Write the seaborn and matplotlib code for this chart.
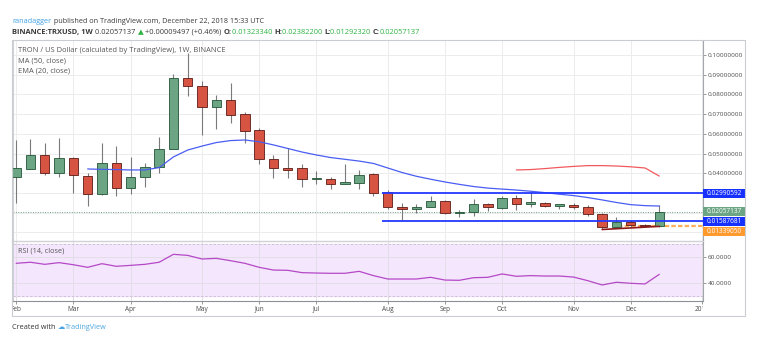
import numpy as np
import pandas as pd
import matplotlib
matplotlib.use('Agg')
import matplotlib.pyplot as plt
import matplotlib.transforms as mtransforms
from matplotlib.patches import Rectangle
import seaborn as sns

sns.set_style('white')
plt.rcParams['font.family'] = ['Open Sans', 'DejaVu Sans']

# TRX/USD weekly candles (Binance), week of 2018-02-05 .. 2018-12-17
weeks = pd.date_range('2018-02-05', periods=46, freq='W-MON')
opens = [0.0381, 0.0422, 0.0493, 0.0402, 0.0478, 0.0386, 0.0295, 0.0452, 0.0325, 0.0381,
         0.0432, 0.0523, 0.0883, 0.0843, 0.0736, 0.0772, 0.0701, 0.0620, 0.0473, 0.0427,
         0.0427, 0.0371, 0.0373, 0.0346, 0.0351, 0.0396, 0.0305, 0.0229, 0.0219, 0.0229,
         0.0260, 0.0199, 0.0204, 0.0245, 0.0224, 0.0275, 0.0245, 0.0250, 0.0234, 0.0240,
         0.0229, 0.0194, 0.0128, 0.0153, 0.0140, 0.01323340]
highs = [0.0569, 0.0574, 0.0554, 0.0579, 0.0483, 0.0402, 0.0554, 0.0539, 0.0483, 0.0452,
         0.0584, 0.0904, 0.1010, 0.0868, 0.0797, 0.0858, 0.0711, 0.0630, 0.0493, 0.0528,
         0.0447, 0.0412, 0.0381, 0.0447, 0.0417, 0.0402, 0.0315, 0.0250, 0.0245, 0.0285,
         0.0265, 0.0214, 0.0270, 0.0250, 0.0285, 0.0290, 0.0310, 0.0255, 0.0245, 0.0250,
         0.0240, 0.0199, 0.0179, 0.0163, 0.0141, 0.02382200]
lows = [0.0250, 0.0420, 0.0391, 0.0381, 0.0300, 0.0234, 0.0290, 0.0285, 0.0295, 0.0331,
        0.0402, 0.0521, 0.0792, 0.0594, 0.0625, 0.0655, 0.0554, 0.0447, 0.0376, 0.0376,
        0.0331, 0.0346, 0.0320, 0.0345, 0.0320, 0.0285, 0.0219, 0.0163, 0.0199, 0.0228,
        0.0194, 0.0179, 0.0184, 0.0209, 0.0219, 0.0214, 0.0229, 0.0229, 0.0219, 0.0219,
        0.0184, 0.0118, 0.0123, 0.0128, 0.0130, 0.01292320]
closes = [0.0427, 0.0493, 0.0402, 0.0478, 0.0391, 0.0295, 0.0452, 0.0325, 0.0381, 0.0432,
          0.0523, 0.0883, 0.0843, 0.0736, 0.0772, 0.0696, 0.0615, 0.0473, 0.0427, 0.0417,
          0.0371, 0.0373, 0.0346, 0.0356, 0.0391, 0.0300, 0.0229, 0.0219, 0.0229, 0.0260,
          0.0199, 0.0204, 0.0245, 0.0229, 0.0275, 0.0245, 0.0255, 0.0234, 0.0245, 0.0229,
          0.0194, 0.0128, 0.0153, 0.0138, 0.0132, 0.02057137]

# EMA(20) drawn from week 5, MA(50) from week 35
ema20 = [0.0422, 0.0420, 0.0419, 0.0417, 0.0417, 0.0429, 0.0483, 0.0518, 0.0538, 0.0556,
         0.0566, 0.0569, 0.0560, 0.0544, 0.0526, 0.0508, 0.0493, 0.0480, 0.0471, 0.0462,
         0.0450, 0.0427, 0.0404, 0.0385, 0.0370, 0.0356, 0.0344, 0.0333, 0.0325, 0.0320,
         0.0315, 0.0309, 0.0302, 0.0294, 0.0287, 0.0277, 0.0265, 0.0252, 0.0241, 0.0236, 0.0234]
ma50 = [0.0417, 0.0419, 0.0424, 0.0430, 0.0435, 0.0439, 0.0439, 0.0437, 0.0433, 0.0427, 0.0386]

rsi14 = [55.4, 56.2, 54.6, 55.9, 54.3, 52.3, 55.1, 53.1, 53.8, 54.6,
         56.2, 62.3, 61.5, 58.7, 59.2, 57.4, 55.4, 52.3, 50.2, 50.0,
         48.2, 47.9, 47.7, 47.7, 49.2, 45.9, 43.3, 43.3, 43.3, 44.6,
         42.5, 42.3, 44.3, 44.6, 47.2, 45.4, 45.9, 45.6, 45.6, 44.8,
         42.0, 38.7, 40.8, 40.0, 39.5, 46.9]

# drawn levels
resistance = 0.02990592
support = 0.01587681
low_level = 0.01339050
trend_vals = [0.0115, 0.0131]   # from week 41 to week 45
change_txt = '+0.00009497 (+0.46%)'

W, H = 762, 351
fig = plt.figure(figsize=(W / 100, H / 100), dpi=100)


def fx(px):
    return px / W


def fy(py):
    return 1 - py / H


L, R = 12.5, 703
ax = fig.add_axes([fx(L), fy(240.7), fx(R) - fx(L), fy(40) - fy(240.7)])
ax_rsi = fig.add_axes([fx(L), fy(300.7), fx(R) - fx(L), fy(240.7) - fy(300.7)])
ax_d = fig.add_axes([fx(L), fy(316), fx(R) - fx(L), fy(300.7) - fy(316)])

x0 = weeks[0] - pd.Timedelta(days=1.81)
x1 = weeks[0] + pd.Timedelta(days=336.4)
for a in (ax, ax_rsi, ax_d):
    a.set_xlim(x0, x1)
    a.set_facecolor('none')

# month ticks: first weekly bar of each month
all_weeks = pd.date_range('2018-02-05', '2019-01-14', freq='W-MON')
month_ticks = pd.Series(all_weeks).groupby(all_weeks.to_period('M')).first().tolist()
month_labels = [d.strftime('%b') if d.month != 1 else str(d.year) for d in month_ticks]

# ---- candles
GREEN, GREEN_E = '#6ba583', '#225437'
RED, RED_E = '#d75442', '#5b1a13'
o = np.array(opens); c = np.array(closes)
up = c >= o
ax.vlines(weeks, lows, highs, color='#7a7a7c', lw=0.8, zorder=3)
body_bot = np.minimum(o, c)
body_h = np.maximum(np.abs(c - o), 0.0005)
ax.bar(weeks, body_h, bottom=body_bot, width=4.6,
       color=[GREEN if u else RED for u in up],
       edgecolor=[GREEN_E if u else RED_E for u in up], linewidth=0.6, zorder=4)

sns.lineplot(x=weeks[5:], y=ema20, ax=ax, color='#4a5df2', lw=0.9, zorder=5)
sns.lineplot(x=weeks[35:], y=ma50, ax=ax, color='#f05a5e', lw=0.9, zorder=5)

# levels
seg_start = weeks[26] - pd.Timedelta(days=3)
ax.hlines([resistance, support], seg_start, x1, color='#2438ff', lw=1.3, zorder=6)
ax.axhline(closes[-1], color='#6f9f80', lw=0.7, ls=(0, (1, 1.5)), zorder=2)
ax.hlines(low_level, weeks[43] - pd.Timedelta(days=6), x1, color='#ffae5c', lw=1.6,
          ls=(0, (2, 1)), zorder=2)
ax.plot([weeks[41], weeks[45]], trend_vals, color='#8e1b1b', lw=1.2, zorder=6)

ax.set_ylim(0.00582, 0.10761)
ax.set_yticks(np.arange(0.01, 0.1005, 0.01))
ax.yaxis.set_major_formatter(plt.FuncFormatter(lambda v, _: f'{v:.8f}' if v > 0.035 else ''))
ax.yaxis.tick_right()
ax.set_xticks(month_ticks)
ax.tick_params(axis='y', length=2.2, width=0.6, color='#8a8a8a', labelsize=4.6,
               labelcolor='#4a4a4a', pad=1.3)
ax.tick_params(axis='x', bottom=False, labelbottom=False)
ax.grid(True, color='#ececee', lw=0.7, zorder=0)
ax.set_xlabel(''); ax.set_ylabel('')

# price labels on the axis
labels = [(resistance, '#1630ff'), (closes[-1], '#6ba583'), (support, '#1630ff'), (low_level, '#ff9a2e')]
sep = 10 / 1971.7
half = 4.6 / 1971.7
blend = mtransforms.blended_transform_factory(ax.transAxes, ax.transData)
prev = None
for val, col in sorted(labels, key=lambda t: -t[0]):
    yy = val if prev is None or prev - val >= sep else prev - sep
    prev = yy
    ax.add_patch(Rectangle((1.0, yy - half), 42 / (R - L), 2 * half, transform=blend,
                           fc=col, ec='none', clip_on=False, zorder=10))
    ax.text(1.0 + 21 / (R - L), yy, f'{val:.8f}', transform=blend, ha='center', va='center',
            color='white', fontsize=4.7, clip_on=False, zorder=11)

# ---- RSI
ax_rsi.axhspan(30, 70, color='#f4e6fd', zorder=0)
for lv in (30, 70):
    ax_rsi.axhline(lv, color='#c9bdd2', lw=0.6, ls=(0, (3, 2)), zorder=1)
sns.lineplot(x=weeks, y=rsi14, ax=ax_rsi, color='#b548c6', lw=0.9, zorder=3)
ax_rsi.set_ylim(26.6, 72.8)
ax_rsi.set_yticks([40, 60])
ax_rsi.set_yticklabels(['40.0000', '60.0000'])
ax_rsi.yaxis.tick_right()
ax_rsi.set_xticks(month_ticks)
ax_rsi.tick_params(axis='y', length=2.2, width=0.6, color='#8a8a8a', labelsize=4.6,
                   labelcolor='#4a4a4a', pad=1.3)
ax_rsi.tick_params(axis='x', bottom=True, length=2.2, width=0.6, color='#8a8a8a',
                   labelbottom=False)
ax_rsi.grid(True, color='#e2dde6', lw=0.7, zorder=0)
ax_rsi.set_xlabel(''); ax_rsi.set_ylabel('')

for a in (ax, ax_rsi):
    a.spines['left'].set_color('#d0d2d6')
    a.spines['top'].set_color('#d0d2d6')
    a.spines['right'].set_color('#a3a6ab')
    a.spines['bottom'].set_color('#8d9095')
    for s in a.spines.values():
        s.set_linewidth(0.8)
ax.spines['top'].set_visible(False)

# date labels, clipped to the plot width
ax_d.axis('off')
for d, lab in zip(month_ticks, month_labels):
    ax_d.text(d, 0.45, lab, ha='center', va='center', fontsize=4.7, color='#4a4a4a',
              clip_on=True)

# outer frame
fig.add_artist(Rectangle((fx(12), fy(316)), fx(745) - fx(12), fy(40) - fy(316),
                         transform=fig.transFigure, fill=False, ec='#c9ccd1', lw=0.8))

# ---- texts
FS = 5.2
DARK = '#3a3a3a'
GRN = '#2fb344'
renderer = fig.canvas.get_renderer()


def text_run(x, y, parts, fs=FS):
    for s, col, wt in parts:
        t = fig.text(fx(x), fy(y), s, color=col, fontweight=wt, fontsize=fs, va='center')
        x += t.get_window_extent(renderer=renderer).width


text_run(12.5, 21.7, [('ranadagger', '#3d9fe4', 'normal'),
                      (' published on TradingView.com, December 22, 2018 15:33 UTC', DARK, 'normal')])
text_run(12.5, 32.3, [('BINANCE:TRXUSD, 1W ', DARK, 'bold'),
                      (f'{closes[-1]:.8f} ', DARK, 'normal'),
                      ('▲ ', GRN, 'normal'),
                      (change_txt + ' ', DARK, 'normal'),
                      ('O:', DARK, 'bold'), (f'{opens[-1]:.8f} ', GRN, 'normal'),
                      ('H:', DARK, 'bold'), (f'{highs[-1]:.8f} ', GRN, 'normal'),
                      ('L:', DARK, 'bold'), (f'{lows[-1]:.8f} ', GRN, 'normal'),
                      ('C:', DARK, 'bold'), (f'{closes[-1]:.8f}', GRN, 'normal')], fs=5.4)

GRAY = '#555555'
fig.text(fx(18), fy(50), 'TRON / US Dollar (calculated by TradingView), 1W, BINANCE',
         fontsize=5.4, color=GRAY, va='center')
fig.text(fx(18), fy(60.7), 'MA (50, close)', fontsize=5.4, color=GRAY, va='center')
fig.text(fx(18), fy(71), 'EMA (20, close)', fontsize=5.4, color=GRAY, va='center')
fig.text(fx(18), fy(250.7), 'RSI (14, close)', fontsize=FS, color=GRAY, va='center')

text_run(12.5, 327.3, [('Created with ', '#333333', 'normal'),
                       ('☁', '#49a5e0', 'normal'),
                       ('TradingView', '#49a5e0', 'normal')])

fig.savefig('out.png', dpi=100)
plt.close(fig)
